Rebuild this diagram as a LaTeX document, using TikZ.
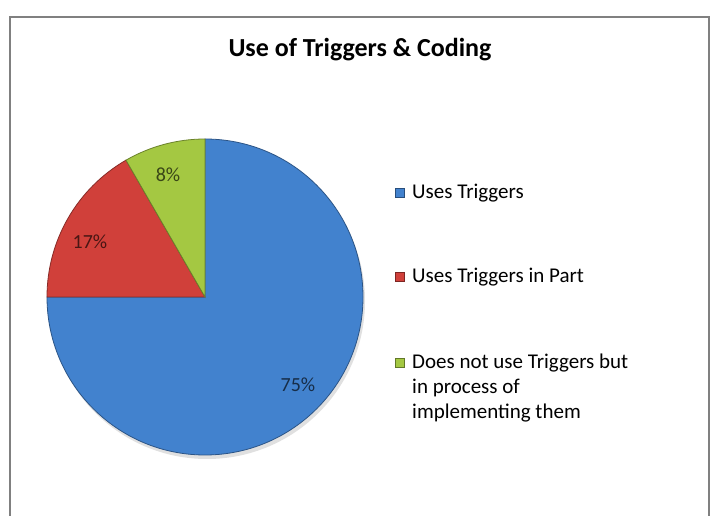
\documentclass[tikz,border=0pt]{standalone}
\usepackage{fontspec}
\setmainfont{Carlito}
\usetikzlibrary{positioning}

\definecolor{trigblue}{RGB}{66,130,206}
\definecolor{trigred}{RGB}{208,64,58}
\definecolor{triggreen}{RGB}{164,200,66}

\begin{document}
\begin{tikzpicture}[x=1pt,y=1pt,
  slice/.style={draw=#1!65!black,line width=0.8pt,fill=#1},
  pct/.style={font=\fontsize{20}{20}\selectfont,text=#1!35!black},
  keybox/.style={draw=#1!60!black,fill=#1,minimum size=9pt,inner sep=0pt},
  keytext/.style={font=\fontsize{21}{25}\selectfont,align=left,inner sep=0pt}]
\useasboundingbox (0,0) rectangle (712,516);
\fill[white] (0,0) rectangle (712,516);
\draw[gray,line width=1.5pt] (10,0) -- (10,499) -- (709,499) -- (709,0);
\node[font=\bfseries\fontsize{26}{26}\selectfont] (title) at (360,466) {Use of Triggers \& Coding};
% pie
\coordinate (c) at (205,219);
\fill[black!12] ([shift={(2,-4)}]c) circle (158);
\filldraw[slice=trigblue] (c) -- ++(90:158) arc (90:-180:158) -- cycle;
\filldraw[slice=trigred] (c) -- ++(180:158) arc (180:120:158) -- cycle;
\filldraw[slice=triggreen] (c) -- ++(120:158) arc (120:90:158) -- cycle;
\node[pct=triggreen] (p8) at (168,341) {8\%};
\node[pct=trigred] (p17) at (90,274) {17\%};
\node[pct=trigblue] (p75) at (298,131) {75\%};
% legend
\node[keybox=trigblue] (k1) at (400,323) {};
\node[keytext,anchor=west] (l1) at (412,323) {Uses Triggers};
\node[keybox=trigred] (k2) at (400,239) {};
\node[keytext,anchor=west] (l2) at (412,239) {Uses Triggers in Part};
\node[keybox=triggreen] (k3) at (400,153) {};
\node[keytext,anchor=west] (l3) at (412,128) {Does not use Triggers but\\in process of\\implementing them};
\end{tikzpicture}
\end{document}
